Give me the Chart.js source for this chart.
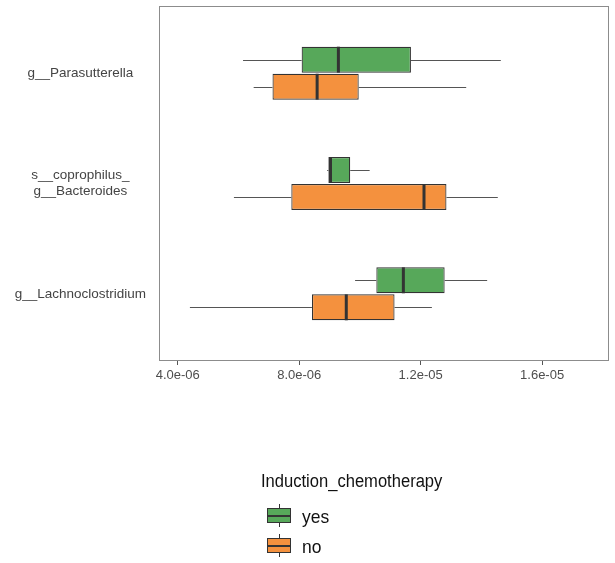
<!DOCTYPE html>
<html>
<head>
<meta charset="utf-8">
<script src="https://cdn.jsdelivr.net/npm/chart.js@4"></script>
<style>
  html, body { margin: 0; padding: 0; background: #fff; }
  #wrap { position: relative; width: 615px; height: 563px; }
  #boxChart { position: absolute; left: 0; top: 0; }
  .lg-title { position: absolute; left: 261px; top: 471px; font: 18px 'Liberation Sans', Arial, sans-serif; color: #111; transform: scaleX(0.92); transform-origin: left center; white-space: nowrap; }
  .lg-icon { position: absolute; left: 267px; width: 24px; height: 23px; }
  .lg-icon .stub { position: absolute; left: 11.5px; width: 1px; top: 0; height: 23px; background: #333; }
  .lg-icon .box { position: absolute; left: 0; top: 4px; width: 24px; height: 15px; box-sizing: border-box; border: 1.2px solid #333; }
  .lg-icon .med { position: absolute; left: 0; top: 10.5px; width: 24px; height: 2px; background: #333; }
  .lg-text { position: absolute; left: 302px; font: 19px 'Liberation Sans', Arial, sans-serif; color: #111; transform: scaleX(0.92); transform-origin: left center; }
</style>
</head>
<body>
<div id="wrap">
  <canvas id="boxChart" width="615" height="563"></canvas>
  <div class="lg-title">Induction_chemotherapy</div>
  <div class="lg-icon" style="top:504px"><div class="stub"></div><div class="box" style="background:#57A85A"></div><div class="med"></div></div>
  <div class="lg-text" style="top:506px">yes</div>
  <div class="lg-icon" style="top:534px"><div class="stub"></div><div class="box" style="background:#F4913E"></div><div class="med"></div></div>
  <div class="lg-text" style="top:536px">no</div>
</div>
<script>
// categories (top to bottom)
const taxa = ['g__Parasutterella', ['s__coprophilus_', 'g__Bacteroides'], 'g__Lachnoclostridium'];

// Induction_chemotherapy = yes
const yesMin = [6.15e-6, 8.92e-6, 9.84e-6];
const yesQ1  = [8.08e-6, 8.96e-6, 10.54e-6];
const yesMed = [9.29e-6, 9.03e-6, 11.43e-6];
const yesQ3  = [11.68e-6, 9.68e-6, 12.79e-6];
const yesMax = [14.64e-6, 10.32e-6, 14.19e-6];

// Induction_chemotherapy = no
const noMin = [6.50e-6, 5.85e-6, 4.40e-6];
const noQ1  = [7.12e-6, 7.74e-6, 8.42e-6];
const noMed = [8.59e-6, 12.11e-6, 9.55e-6];
const noQ3  = [9.96e-6, 12.85e-6, 11.14e-6];
const noMax = [13.50e-6, 14.54e-6, 12.37e-6];

const xTickValues = [4e-6, 8e-6, 1.2e-5, 1.6e-5];
const xTickLabels = ['4.0e-06', '8.0e-06', '1.2e-05', '1.6e-05'];

const stats = [
    { min: yesMin, med: yesMed, max: yesMax },
    { min: noMin, med: noMed, max: noMax }
];

const whiskers = {
    id: 'whiskers',
    afterDatasetsDraw(chart) {
        const ctx = chart.ctx;
        const xs = chart.scales.x;
        ctx.save();
        chart.data.datasets.forEach((ds, d) => {
            const meta = chart.getDatasetMeta(d);
            const st = stats[d];
            meta.data.forEach((bar, i) => {
                const p = bar.getProps(['x', 'base', 'y', 'height'], true);
                const left = Math.min(p.x, p.base);
                const right = Math.max(p.x, p.base);
                const y = Math.round(p.y) + 0.5;
                ctx.strokeStyle = '#555';
                ctx.lineWidth = 1;
                ctx.beginPath();
                ctx.moveTo(xs.getPixelForValue(st.min[i]), y);
                ctx.lineTo(left, y);
                ctx.moveTo(right, y);
                ctx.lineTo(xs.getPixelForValue(st.max[i]), y);
                ctx.stroke();
                const m = xs.getPixelForValue(st.med[i]);
                ctx.strokeStyle = '#333';
                ctx.lineWidth = 3;
                ctx.beginPath();
                ctx.moveTo(m, p.y - p.height / 2);
                ctx.lineTo(m, p.y + p.height / 2);
                ctx.stroke();
            });
        });
        ctx.restore();
    }
};

const panelBorder = {
    id: 'panelBorder',
    afterDraw(chart) {
        const a = chart.chartArea;
        const ctx = chart.ctx;
        ctx.save();
        ctx.strokeStyle = '#8c8c8c';
        ctx.lineWidth = 1;
        ctx.strokeRect(a.left - 0.5, a.top - 0.5, a.right - a.left + 1, a.bottom - a.top + 1);
        ctx.restore();
    }
};

new Chart(document.getElementById('boxChart'), {
    type: 'bar',
    data: {
        datasets: [
            {
                label: 'yes',
                data: taxa.map((t, i) => ({ x: [yesQ1[i], yesQ3[i]], y: i + 1 })),
                backgroundColor: '#57A85A',
                borderColor: '#333',
                borderWidth: 1.2,
                borderSkipped: false
            },
            {
                label: 'no',
                data: taxa.map((t, i) => ({ x: [noQ1[i], noQ3[i]], y: i + 1 })),
                backgroundColor: '#F4913E',
                borderColor: '#333',
                borderWidth: 1.2,
                borderSkipped: false
            }
        ]
    },
    options: {
        indexAxis: 'y',
        responsive: false,
        animation: false,
        categoryPercentage: 0.49,
        barPercentage: 0.96,
        layout: { padding: { top: 7, right: 7, bottom: 153, left: 0 } },
        plugins: {
            legend: { display: false },
            tooltip: { enabled: false }
        },
        scales: {
            x: {
                type: 'linear',
                min: 3.415e-6,
                max: 1.817e-5,
                afterBuildTicks: axis => { axis.ticks = xTickValues.map(v => ({ value: v })); },
                afterFit: axis => { axis.height = 50; },
                grid: { drawOnChartArea: false, drawTicks: true, tickLength: 5, color: '#555' },
                border: { display: false },
                ticks: {
                    callback: (v, i) => xTickLabels[i],
                    padding: 3,
                    maxRotation: 0,
                    color: '#4d4d4d',
                    font: { family: "'Liberation Sans', Arial, sans-serif", size: 13 }
                }
            },
            y: {
                type: 'linear',
                reverse: true,
                offset: false,
                min: 0.4,
                max: 3.6,
                afterBuildTicks: axis => { axis.ticks = taxa.map((t, i) => ({ value: i + 1 })); },
                afterFit: axis => {
                    axis.width = 160;
                    axis.paddingTop = 0;
                    axis.paddingBottom = 0;
                },
                grid: { display: false, offset: false },
                border: { display: false },
                ticks: {
                    callback: v => taxa[v - 1],
                    crossAlign: 'center',
                    padding: 6,
                    color: '#444',
                    font: { family: "'Liberation Sans', Arial, sans-serif", size: 13.5, lineHeight: 1.15 }
                }
            }
        }
    },
    plugins: [whiskers, panelBorder]
});
</script>
</body>
</html>
